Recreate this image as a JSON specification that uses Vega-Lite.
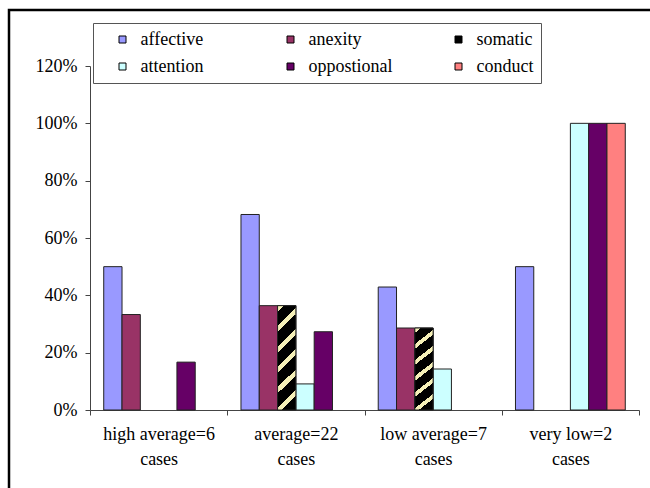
{
  "$schema": "https://vega.github.io/schema/vega-lite/v6.json",
  "width": 645,
  "height": 482,
  "autosize": {"type": "none"},
  "padding": {"left": 9, "top": 10, "right": 0, "bottom": 0},
  "background": "white",
  "title": {"text": "(a)", "anchor": "start", "offset": 7, "baseline": "alphabetic", "dx": 4, "font": "Liberation Serif", "fontSize": 18, "fontWeight": "normal", "color": "#000"},
  "config": {
    "view": {"stroke": "#000", "strokeWidth": 2.5},
    "font": "Liberation Serif"
  },
  "data": {
    "values": [
      {"group": "high average=6 cases", "symptom": "affective", "value": 0.5},
      {"group": "high average=6 cases", "symptom": "anexity", "value": 0.333},
      {"group": "high average=6 cases", "symptom": "oppostional", "value": 0.167},
      {"group": "average=22 cases", "symptom": "affective", "value": 0.682},
      {"group": "average=22 cases", "symptom": "anexity", "value": 0.364},
      {"group": "average=22 cases", "symptom": "somatic", "value": 0.364},
      {"group": "average=22 cases", "symptom": "attention", "value": 0.091},
      {"group": "average=22 cases", "symptom": "oppostional", "value": 0.273},
      {"group": "low average=7 cases", "symptom": "affective", "value": 0.429},
      {"group": "low average=7 cases", "symptom": "anexity", "value": 0.286},
      {"group": "low average=7 cases", "symptom": "somatic", "value": 0.286},
      {"group": "low average=7 cases", "symptom": "attention", "value": 0.143},
      {"group": "very low=2 cases", "symptom": "affective", "value": 0.5},
      {"group": "very low=2 cases", "symptom": "attention", "value": 1.0},
      {"group": "very low=2 cases", "symptom": "oppostional", "value": 1.0},
      {"group": "very low=2 cases", "symptom": "conduct", "value": 1.0}
    ]
  },
  "encoding": {
    "x": {
      "field": "group", "type": "nominal",
      "sort": ["high average=6 cases", "average=22 cases", "low average=7 cases", "very low=2 cases"],
      "scale": {"range": [81, 630], "paddingInner": 0, "paddingOuter": 0},
      "axis": {
        "title": null, "offset": -82, "tickBand": "extent", "tickSize": 5, "labelAngle": 0,
        "labelExpr": "datum.label ? [slice(datum.label, 0, length(datum.label) - 6), 'cases'] : ''",
        "labelLineHeight": 25, "labelPadding": 10, "labelFont": "Liberation Serif", "labelFontSize": 18,
        "labelColor": "#000", "domainColor": "#444", "tickColor": "#444", "labelLimit": 300
      }
    },
    "xOffset": {
      "field": "symptom", "type": "nominal",
      "scale": {"domain": ["affective", "anexity", "somatic", "attention", "oppostional", "conduct"], "paddingInner": 0, "paddingOuter": 0.75}
    },
    "y": {
      "field": "value", "type": "quantitative",
      "scale": {"domain": [0, 1.2], "range": [400, 56], "nice": false, "zero": true},
      "axis": {
        "title": null, "offset": -81, "values": [0, 0.2, 0.4, 0.6, 0.8, 1.0, 1.2], "format": ".0%",
        "grid": false, "tickSize": 5, "labelPadding": 8, "labelFont": "Liberation Serif", "labelFontSize": 18,
        "labelColor": "#000", "domainColor": "#444", "tickColor": "#444"
      }
    }
  },
  "layer": [
    {
      "mark": {"type": "bar", "stroke": "#222", "strokeWidth": 1},
      "encoding": {
        "color": {
          "field": "symptom", "type": "nominal",
          "scale": {"domain": ["affective", "anexity", "somatic", "attention", "oppostional", "conduct"],
                    "range": ["#9999FF", "#993366", "#000000", "#CCFFFF", "#660066", "#FF8080"]},
          "legend": {
            "title": "\u00a0", "titleOrient": "left", "titlePadding": 13, "titleFontSize": 18, "titleFont": "Liberation Serif",
            "orient": "none", "legendX": 84, "legendY": 13,
            "direction": "horizontal", "columns": 3, "gridAlign": "all",
            "columnPadding": 57, "rowPadding": 9, "padding": 7.5,
            "strokeColor": "#555", "fillColor": "white",
            "symbolType": "square", "symbolSize": 49, "symbolStrokeColor": "#000", "symbolStrokeWidth": 1,
            "labelFont": "Liberation Serif", "labelFontSize": 18, "labelColor": "#000", "labelOffset": 9,
            "labelLimit": 300
          }
        }
      }
    },
    {
      "transform": [{"filter": "datum.symptom === 'somatic'"}],
      "mark": {
        "type": "bar", "stroke": "#222", "strokeWidth": 1,
        "fill": {
          "gradient": "linear", "x1": 0, "y1": 0, "x2": 0.197, "y2": 1.139,
          "stops": [
            {"offset": 0, "color": "#F5F0B8"}, {"offset": 0.05, "color": "#F5F0B8"},
            {"offset": 0.05, "color": "#000000"}, {"offset": 0.1667, "color": "#000000"},
            {"offset": 0.1667, "color": "#F5F0B8"}, {"offset": 0.2167, "color": "#F5F0B8"},
            {"offset": 0.2167, "color": "#000000"}, {"offset": 0.3333, "color": "#000000"},
            {"offset": 0.3333, "color": "#F5F0B8"}, {"offset": 0.3833, "color": "#F5F0B8"},
            {"offset": 0.3833, "color": "#000000"}, {"offset": 0.5, "color": "#000000"},
            {"offset": 0.5, "color": "#F5F0B8"}, {"offset": 0.55, "color": "#F5F0B8"},
            {"offset": 0.55, "color": "#000000"}, {"offset": 0.6667, "color": "#000000"},
            {"offset": 0.6667, "color": "#F5F0B8"}, {"offset": 0.7167, "color": "#F5F0B8"},
            {"offset": 0.7167, "color": "#000000"}, {"offset": 0.8333, "color": "#000000"},
            {"offset": 0.8333, "color": "#F5F0B8"}, {"offset": 0.8833, "color": "#F5F0B8"},
            {"offset": 0.8833, "color": "#000000"}, {"offset": 1, "color": "#000000"}
          ]
        }
      }
    }
  ]
}
